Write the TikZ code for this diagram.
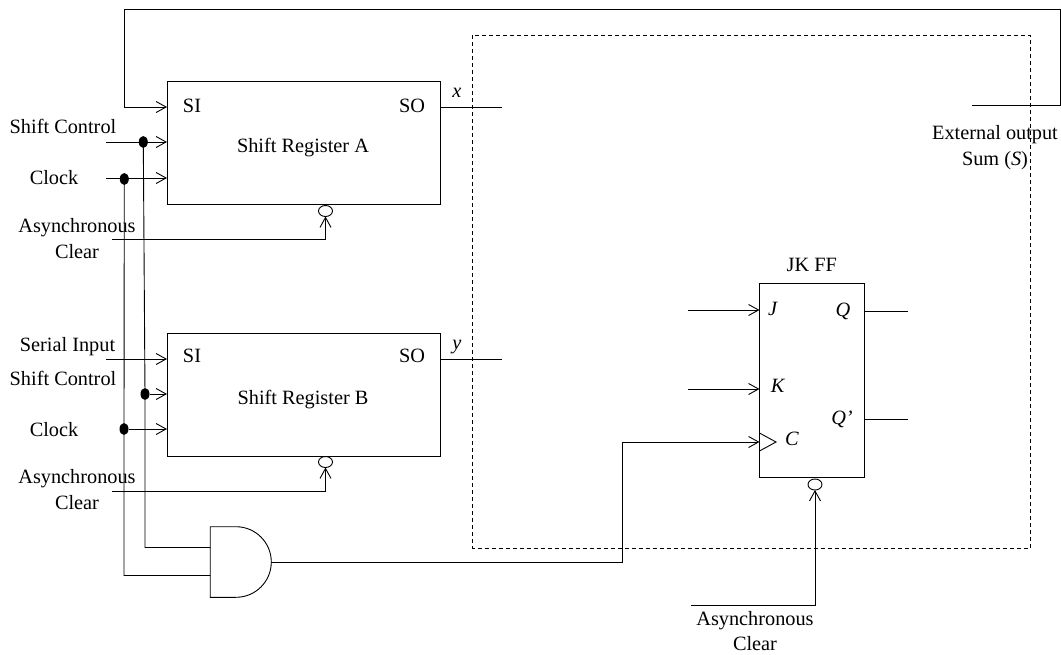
\documentclass[tikz,border=0pt]{standalone}
\usepackage{fontspec}
\setmainfont{Liberation Serif}
\usetikzlibrary{positioning, arrows.meta, shapes.geometric}

\begin{document}
\begin{tikzpicture}[x = 1pt, y = -1pt, line width = 0.9pt, font = \fontsize{20.3}{24}\selectfont,
		>={Straight Barb[length = 10pt, width = 11pt]},
		register/.style={rectangle, draw, inner sep = 0pt, outer sep = 0pt, minimum width = 273pt, minimum height = 123pt},
		flipflop/.style={rectangle, draw, inner sep = 0pt, outer sep = 0pt, minimum width = 104.5pt, minimum height = 193.5pt},
		gatebox/.style={rectangle, inner sep = 0pt, outer sep = 0pt, minimum width = 61pt, minimum height = 70.6pt},
		caption/.style={inner sep = 0pt, align = center, text height = 15pt, text depth = 2pt},
		dotpoint/.style={ellipse, fill, inner sep = 0pt, outer sep = 0pt, minimum width = 9pt, minimum height = 12pt},
		bubble/.style={ellipse, draw, inner sep = 0pt, outer sep = 0pt, minimum width = 14pt, minimum height = 11pt},
		arrow/.style={->}
	]
	\useasboundingbox (0, 0) rectangle (1061, 654);
	
	\node[register] (regA) at (303.5, 142.5) {};
	\node[caption] (nameA) at (303, 146) {Shift Register A};
	\node[caption] (siA) at (192, 106) {SI};
	\node[caption] (soA) at (412, 106) {SO};
	\node[caption] (xLabel) at (457, 91) {\textit{x}};
	
	\node[register, below = 129pt of regA] (regB) {};
	\node[caption] (nameB) at (303, 398) {Shift Register B};
	\node[caption] (siB) at (192, 356) {SI};
	\node[caption] (soB) at (412, 356) {SO};
	\node[caption] (yLabel) at (457, 343) {\textit{y}};
	
	\node[caption] (shiftTextA) at (63, 127) {Shift Control};
	\node[caption] (clockTextA) at (54, 178) {Clock};
	\node[caption] (clearTextA) at (77, 226) {Asynchronous};
	\node[caption, below = 8pt of clearTextA] (clearTextA2) {Clear};
	
	\node[caption] (serialText) at (67.5, 345) {Serial Input};
	\node[caption] (shiftTextB) at (63, 379) {Shift Control};
	\node[caption] (clockTextB) at (54, 430) {Clock};
	\node[caption] (clearTextB) at (77, 477) {Asynchronous};
	\node[caption, below = 8pt of clearTextB] (clearTextB2) {Clear};
	
	\node[flipflop] (jkff) at (811.75, 380.5) {};
	\node[caption, above = 10pt of jkff] (ffName) {JK FF};
	\node[caption] (jLabel) at (773, 309) {\textit{J}};
	\node[caption] (kLabel) at (778, 386) {\textit{K}};
	\node[caption] (cLabel) at (792, 439) {\textit{C}};
	\node[caption] (qLabel) at (843, 310) {\textit{Q}};
	\node[caption] (qnLabel) at (842, 418) {\textit{Q’}};
	
	\node[caption] (clearTextC) at (755, 619) {Asynchronous};
	\node[caption, below = 7pt of clearTextC] (clearTextC2) {Clear};
	\node[caption] (extText) at (995, 133) {External output};
	\node[caption, below = 8pt of extText] (sumText) {Sum (\textit{S})};
	
	\node[gatebox] (andGate) at (240.75, 562) {};
	
	\node[dotpoint] (dotShiftA) at (143.3, 142) {};
	\node[dotpoint] (dotClockA) at (124.3, 179) {};
	\node[dotpoint] (dotShiftB) at (145, 394) {};
	\node[dotpoint] (dotClockB) at (124, 429) {};
	\node[bubble] (bubbleA) at (325.5, 211) {};
	\node[bubble] (bubbleB) at (325.5, 462) {};
	\node[bubble] (bubbleC) at (815, 484.5) {};
	
	\coordinate (pinSiA) at (regA.west |- 0, 107);
	\coordinate (pinShiftA) at (regA.west |- 0, 142);
	\coordinate (pinClockA) at (regA.west |- 0, 178);
	\coordinate (pinSoA) at (regA.east |- 0, 107);
	\coordinate (pinSiB) at (regB.west |- 0, 359);
	\coordinate (pinShiftB) at (regB.west |- 0, 394);
	\coordinate (pinClockB) at (regB.west |- 0, 429);
	\coordinate (pinSoB) at (regB.east |- 0, 359);
	\coordinate (pinJ) at (jkff.west |- 0, 310);
	\coordinate (pinK) at (jkff.west |- 0, 389);
	\coordinate (pinC) at (jkff.west |- 0, 442);
	\coordinate (pinQ) at (jkff.east |- 0, 311);
	\coordinate (pinQn) at (jkff.east |- 0, 419);
	\coordinate (gateInA) at (andGate.west |- 0, 547.5);
	\coordinate (gateInB) at (andGate.west |- 0, 575.5);
	
	\coordinate (inShiftA) at (106, 142);
	\coordinate (inClockA) at (106, 178);
	\coordinate (inClearA) at (112, 239);
	\coordinate (inSerial) at (106, 359);
	\coordinate (inClearB) at (112, 491);
	\coordinate (inClearC) at (691, 605);
	\coordinate (inJ) at (688, 310);
	\coordinate (inK) at (688, 389);
	\coordinate (outX) at (502, 107);
	\coordinate (outY) at (502, 359);
	\coordinate (outQ) at (908, 311);
	\coordinate (outQn) at (908, 419);
	\coordinate (outSum) at (972, 105);
	\coordinate (topRight) at (1060, 9);
	\coordinate (topLeft) at (124, 9);
	\coordinate (turnC) at (622, 442);
	
	\draw[arrow] (outSum) -| (topRight) -- (topLeft) |- (pinSiA);
	\draw[arrow] (inShiftA) -- (pinShiftA);
	\draw[arrow] (inClockA) -- (pinClockA);
	\draw[arrow] (inClearA) -| (bubbleA.south);
	\draw (pinSoA) -- (outX);
	
	\draw[arrow] (inSerial) -- (pinSiB);
	\draw[arrow] (dotShiftB) -- (pinShiftB);
	\draw[arrow] (dotClockB) -- (pinClockB);
	\draw[arrow] (inClearB) -| (bubbleB.south);
	\draw (pinSoB) -- (outY);
	
	\draw (dotShiftA) -- (dotShiftB) |- (gateInA);
	\draw (dotClockA) -- (dotClockB) |- (gateInB);
	
	% and gate, flat on the left and round on the right
	\coordinate (gateBend) at (236, 526.7);
	\draw (andGate.south west) -- (andGate.north west) -- (gateBend) arc[start angle = 90, end angle = -90, radius = 35.3pt] -- cycle;
	
	\draw[arrow] (andGate.east) -| (turnC) -- (pinC);
	\draw[arrow] (inJ) -- (pinJ);
	\draw[arrow] (inK) -- (pinK);
	\draw[arrow] (inClearC) -| (bubbleC.south);
	\draw (pinQ) -- (outQ);
	\draw (pinQn) -- (outQn);
	
	% clock mark of the flip-flop
	\coordinate (markTop) at (jkff.west |- 0, 433);
	\coordinate (markTip) at (776, 442);
	\coordinate (markBottom) at (jkff.west |- 0, 451);
	\draw (markTop) -- (markTip) -- (markBottom);
	
	\coordinate (boxTopLeft) at (472.5, 35);
	\coordinate (boxBottomRight) at (1030, 548);
	\draw[dashed, dash pattern = on 4pt off 3pt, line width = 0.8pt] (boxTopLeft) rectangle (boxBottomRight);
	
\end{tikzpicture}
\end{document}
